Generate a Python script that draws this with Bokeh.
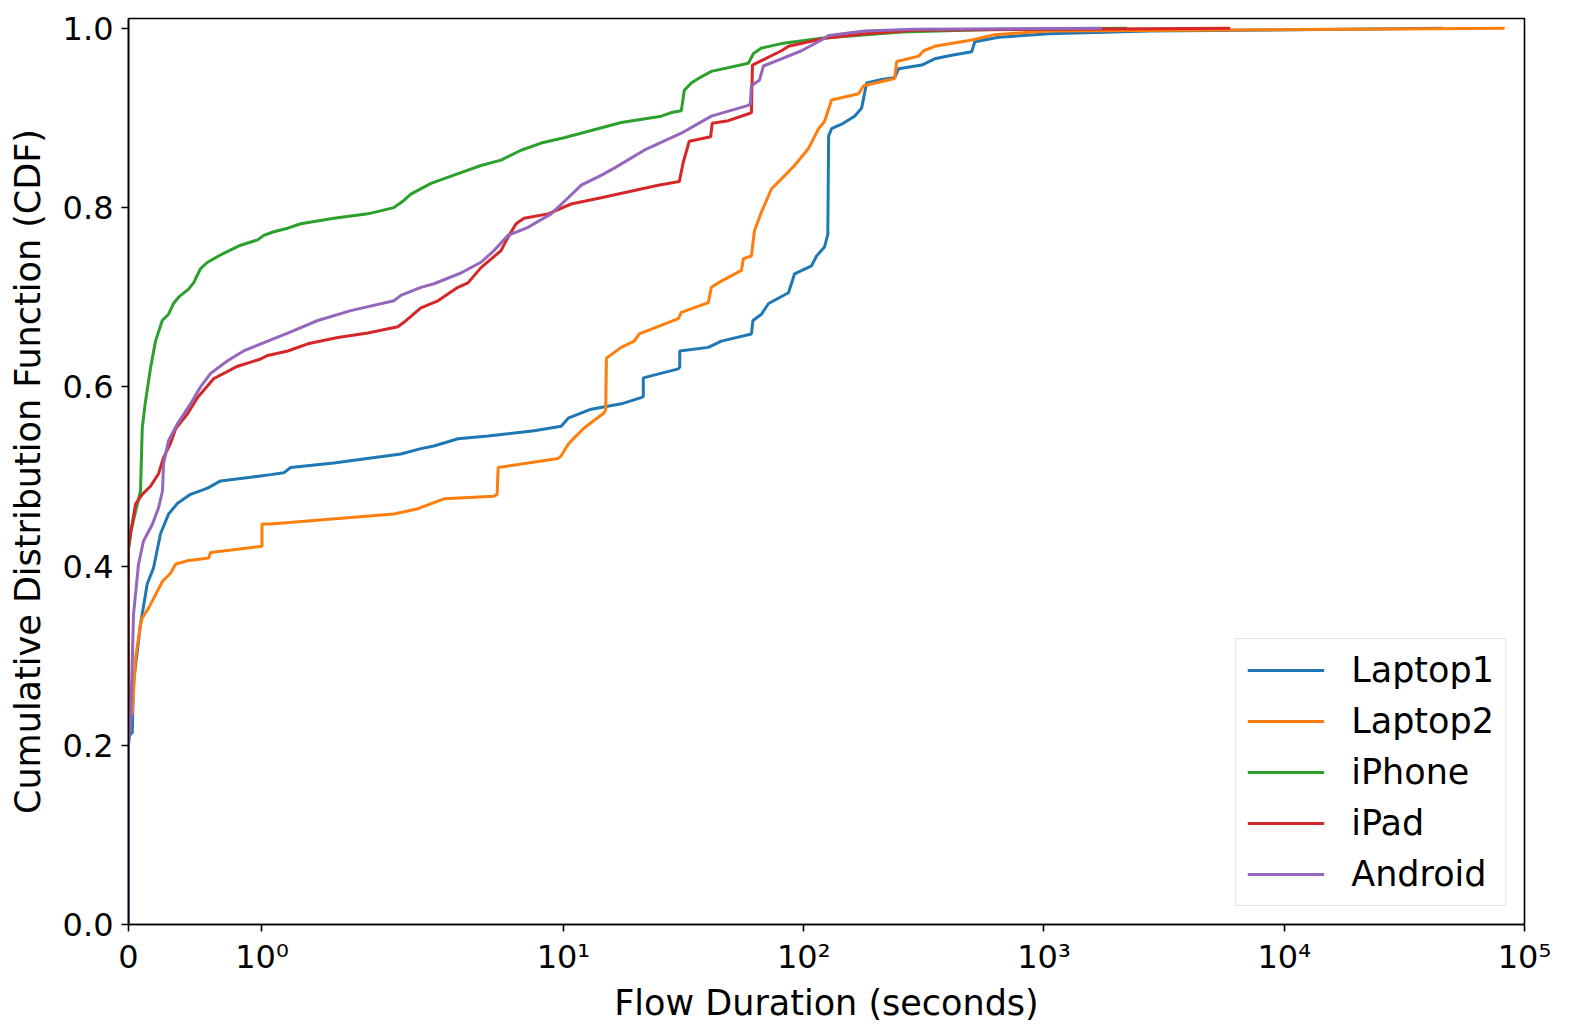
import numpy as np
from bokeh.plotting import figure
from bokeh.models import Range1d, FixedTicker, PrintfTickFormatter, CustomJSTickFormatter
from bokeh.embed import file_html
from bokeh.resources import INLINE

# ---- data: (flow duration in seconds, CDF) ----
LAPTOP1 = [(0, 0), (0, 0.21), (0.028, 0.214), (0.0375, 0.27), (0.09, 0.335), (0.14, 0.38),
           (0.1875, 0.398), (0.24, 0.436), (0.30, 0.458), (0.3675, 0.47), (0.465, 0.48),
           (0.5925, 0.487), (0.69, 0.495), (0.915, 0.499), (1.065, 0.502), (1.163, 0.504),
           (1.215, 0.51), (1.538, 0.515), (2.107, 0.525), (2.552, 0.531), (2.892, 0.534),
           (3.64, 0.542), (4.855, 0.545), (7.549, 0.551), (9.785, 0.556), (10.47, 0.565),
           (13.05, 0.575), (17.41, 0.581), (21.08, 0.588), (21.5, 0.589), (21.5, 0.61),
           (30.07, 0.62), (30.5, 0.622), (30.5, 0.64), (40.1, 0.644), (45.43, 0.651),
           (60.6, 0.659), (61.5, 0.674), (66.7, 0.681), (71.4, 0.693), (86.5, 0.705),
           (91.6, 0.726), (107.8, 0.735), (113.1, 0.746), (122.1, 0.756), (126.0, 0.77),
           (127.0, 0.88), (130.6, 0.888), (143.8, 0.893), (162.9, 0.902), (174.2, 0.911),
           (182.8, 0.939), (211.0, 0.943), (239.1, 0.945), (248.5, 0.955), (309.9, 0.959),
           (351.0, 0.966), (413.3, 0.970), (500.6, 0.974), (515.3, 0.985), (648.8, 0.99),
           (1048.7, 0.994), (2738, 0.997), (45570, 1.0)]

LAPTOP2 = [(0, 0), (0, 0.235), (0.028, 0.235), (0.0525, 0.297), (0.09, 0.335), (0.103, 0.342),
           (0.15, 0.353), (0.255, 0.383), (0.315, 0.392), (0.3525, 0.402), (0.4425, 0.406),
           (0.60, 0.409), (0.615, 0.415), (1.0, 0.422), (1.0, 0.447), (1.065, 0.447),
           (1.988, 0.458), (2.479, 0.464), (3.183, 0.475), (5.143, 0.478), (5.3, 0.48),
           (5.35, 0.51), (9.507, 0.52), (9.785, 0.523), (10.47, 0.536), (11.09, 0.543),
           (12.2, 0.554), (14.79, 0.571), (15.0, 0.575), (15.1, 0.632), (17.41, 0.644),
           (19.71, 0.651), (20.68, 0.659), (30.07, 0.676), (30.95, 0.683), (40.1, 0.694),
           (41.27, 0.711), (45.43, 0.718), (55.07, 0.73), (56.14, 0.743), (60.6, 0.746),
           (62.37, 0.774), (66.7, 0.795), (73.5, 0.821), (80.8, 0.832), (91.6, 0.847),
           (104.7, 0.866), (115.3, 0.888), (122.1, 0.896), (130.6, 0.92), (169.3, 0.927),
           (177.6, 0.936), (239.1, 0.944), (243.8, 0.963), (301.1, 0.969), (315.9, 0.975),
           (351.0, 0.98), (500.6, 0.987), (624.4, 0.993), (1048.7, 0.997), (82650, 1.0)]

IPHONE = [(0, 0), (0, 0.42), (0.02, 0.44), (0.09, 0.484), (0.103, 0.554), (0.1275, 0.584),
          (0.165, 0.621), (0.2025, 0.651), (0.253, 0.674), (0.30, 0.681), (0.3375, 0.693),
          (0.375, 0.70), (0.45, 0.709), (0.4875, 0.716), (0.54, 0.732), (0.5925, 0.739),
          (0.7125, 0.749), (0.84, 0.758), (0.9675, 0.764), (1.013, 0.769), (1.088, 0.773),
          (1.193, 0.777), (1.29, 0.782), (1.538, 0.788), (1.793, 0.793), (1.988, 0.80),
          (2.168, 0.808), (2.318, 0.815), (2.81, 0.827), (3.746, 0.839), (4.539, 0.847),
          (5.5, 0.853), (6.664, 0.864), (8.075, 0.872), (10.07, 0.878), (13.05, 0.886),
          (17.41, 0.895), (25.54, 0.902), (28.12, 0.906), (30.95, 0.908), (31.86, 0.931),
          (34.07, 0.939), (36.44, 0.944), (41.27, 0.952), (58.87, 0.961), (61.78, 0.972),
          (66.7, 0.978), (80.8, 0.983), (118.6, 0.989), (255.8, 0.996), (667.8, 0.999),
          (2216, 1.0)]

IPAD = [(0, 0), (0, 0.42), (0.015, 0.436), (0.0525, 0.469), (0.103, 0.48), (0.165, 0.489),
        (0.225, 0.503), (0.2625, 0.521), (0.315, 0.537), (0.3525, 0.553), (0.4425, 0.57),
        (0.5175, 0.588), (0.6375, 0.609), (0.8175, 0.623), (0.99, 0.631), (1.043, 0.635),
        (1.193, 0.64), (1.343, 0.648), (1.568, 0.655), (1.793, 0.66), (2.046, 0.667),
        (2.168, 0.672), (2.552, 0.688), (3.004, 0.696), (3.64, 0.711), (4.006, 0.716),
        (4.539, 0.733), (5.5, 0.752), (5.883, 0.767), (6.355, 0.782), (6.859, 0.788),
        (8.637, 0.793), (10.77, 0.804), (14.36, 0.811), (19.71, 0.819), (24.82, 0.825),
        (30.36, 0.829), (31.5, 0.85), (33.4, 0.874), (41.0, 0.879), (41.6, 0.894),
        (48.6, 0.897), (59.44, 0.905), (60.6, 0.906), (61.2, 0.959), (66.7, 0.964),
        (80.8, 0.975), (86.5, 0.98), (122.1, 0.989), (179.3, 0.994), (289.8, 0.998),
        (5957, 1.0)]

ANDROID = [(0, 0), (0, 0.2), (0.015, 0.22), (0.0375, 0.346), (0.075, 0.402), (0.1125, 0.428),
           (0.18, 0.447), (0.225, 0.465), (0.255, 0.484), (0.2625, 0.514), (0.30, 0.54),
           (0.3675, 0.559), (0.465, 0.581), (0.54, 0.60), (0.615, 0.615), (0.7425, 0.629),
           (0.8625, 0.64), (1.043, 0.651), (1.193, 0.66), (1.418, 0.674), (1.665, 0.685),
           (1.988, 0.696), (2.107, 0.702), (2.552, 0.711), (2.892, 0.715), (3.746, 0.727),
           (4.539, 0.739), (5.143, 0.752), (5.883, 0.769), (7.128, 0.778), (8.889, 0.793),
           (10.47, 0.811), (11.86, 0.825), (14.36, 0.836), (16.28, 0.844), (21.69, 0.864),
           (30.95, 0.883), (41.27, 0.902), (58.87, 0.914), (60.0, 0.916), (60.6, 0.936),
           (65.4, 0.942), (68.0, 0.958), (80.8, 0.966), (97.9, 0.975), (118.6, 0.987),
           (126.9, 0.992), (179.3, 0.997), (289.8, 0.999), (1744, 1.0)]

SERIES_NAMES = ["Laptop1", "Laptop2", "iPhone", "iPad", "Android"]
SERIES_DATA = [LAPTOP1, LAPTOP2, IPHONE, IPAD, ANDROID]
SERIES_COLORS = ["#1f77b4", "#ff7f0e", "#2ca02c", "#d62728", "#9467bd"]

X_TICKS = [0, 1, 10, 100, 1000, 10000, 100000]
X_TICK_LABELS = ["0", "10\u2070", "10\u00b9", "10\u00b2", "10\u00b3", "10\u2074", "10\u2075"]
Y_TICKS = [0.0, 0.2, 0.4, 0.6, 0.8, 1.0]
X_MAX = 1e5
Y_MAX = 1.011

# ---- symmetric-log x scale (linthresh=2, linscale=1, base 10) ----
LINTHRESH = 2.0
LINSCALE = 1.0
ADJ = LINSCALE / (1.0 - 1.0 / 10.0)


def symlog(x):
    x = np.asarray(x, dtype=float)
    lin = x / LINTHRESH * ADJ
    log = ADJ + np.log10(np.maximum(x, LINTHRESH) / LINTHRESH)
    return np.where(x <= LINTHRESH, lin, log)


FONT = "DejaVu Sans"

p = figure(width=1562, height=1025, output_backend="svg", toolbar_location=None,
           x_range=Range1d(0, float(symlog(X_MAX))), y_range=Range1d(0, Y_MAX),
           min_border_left=128, min_border_right=38, min_border_top=18, min_border_bottom=101)

for name, data, color in zip(SERIES_NAMES, SERIES_DATA, SERIES_COLORS):
    xs = [d[0] for d in data]
    ys = [d[1] for d in data]
    p.line(symlog(xs), ys, line_color=color, line_width=3, legend_label=name)

p.xgrid.visible = False
p.ygrid.visible = False
p.outline_line_color = "black"
p.outline_line_width = 1.6
p.background_fill_color = "white"
p.border_fill_color = "white"

p.xaxis.ticker = FixedTicker(ticks=[float(v) for v in symlog(X_TICKS)])
p.xaxis.formatter = CustomJSTickFormatter(args=dict(labels=X_TICK_LABELS),
                                          code="return labels[index];")
p.yaxis.ticker = FixedTicker(ticks=Y_TICKS)
p.yaxis.formatter = PrintfTickFormatter(format="%.1f")

for ax in (p.xaxis[0], p.yaxis[0]):
    ax.axis_line_color = "black"
    ax.axis_line_width = 1.6
    ax.major_tick_line_color = "black"
    ax.major_tick_line_width = 1.6
    ax.major_tick_out = 7
    ax.major_tick_in = 0
    ax.minor_tick_line_color = None
    ax.major_label_text_font = FONT
    ax.major_label_text_font_size = "32px"
    ax.major_label_text_color = "black"
    ax.axis_label_text_font = FONT
    ax.axis_label_text_font_size = "35px"
    ax.axis_label_text_font_style = "normal"
    ax.axis_label_text_color = "black"

p.xaxis.axis_label = "Flow Duration (seconds)"
p.yaxis.axis_label = "Cumulative Distribution Function (CDF)"
p.xaxis.major_label_standoff = 6
p.yaxis.major_label_standoff = 8
p.xaxis.axis_label_standoff = 4
p.yaxis.axis_label_standoff = 12

lg = p.legend[0]
lg.location = "bottom_right"
lg.margin = 18
lg.padding = 11
lg.spacing = 11
lg.glyph_width = 77
lg.label_standoff = 27
lg.label_text_font = FONT
lg.label_text_font_size = "35px"
lg.label_text_color = "black"
lg.border_line_color = "#cccccc"
lg.border_line_width = 1.5
lg.background_fill_alpha = 0.8

open("out.html", "w").write(file_html(p, INLINE))
